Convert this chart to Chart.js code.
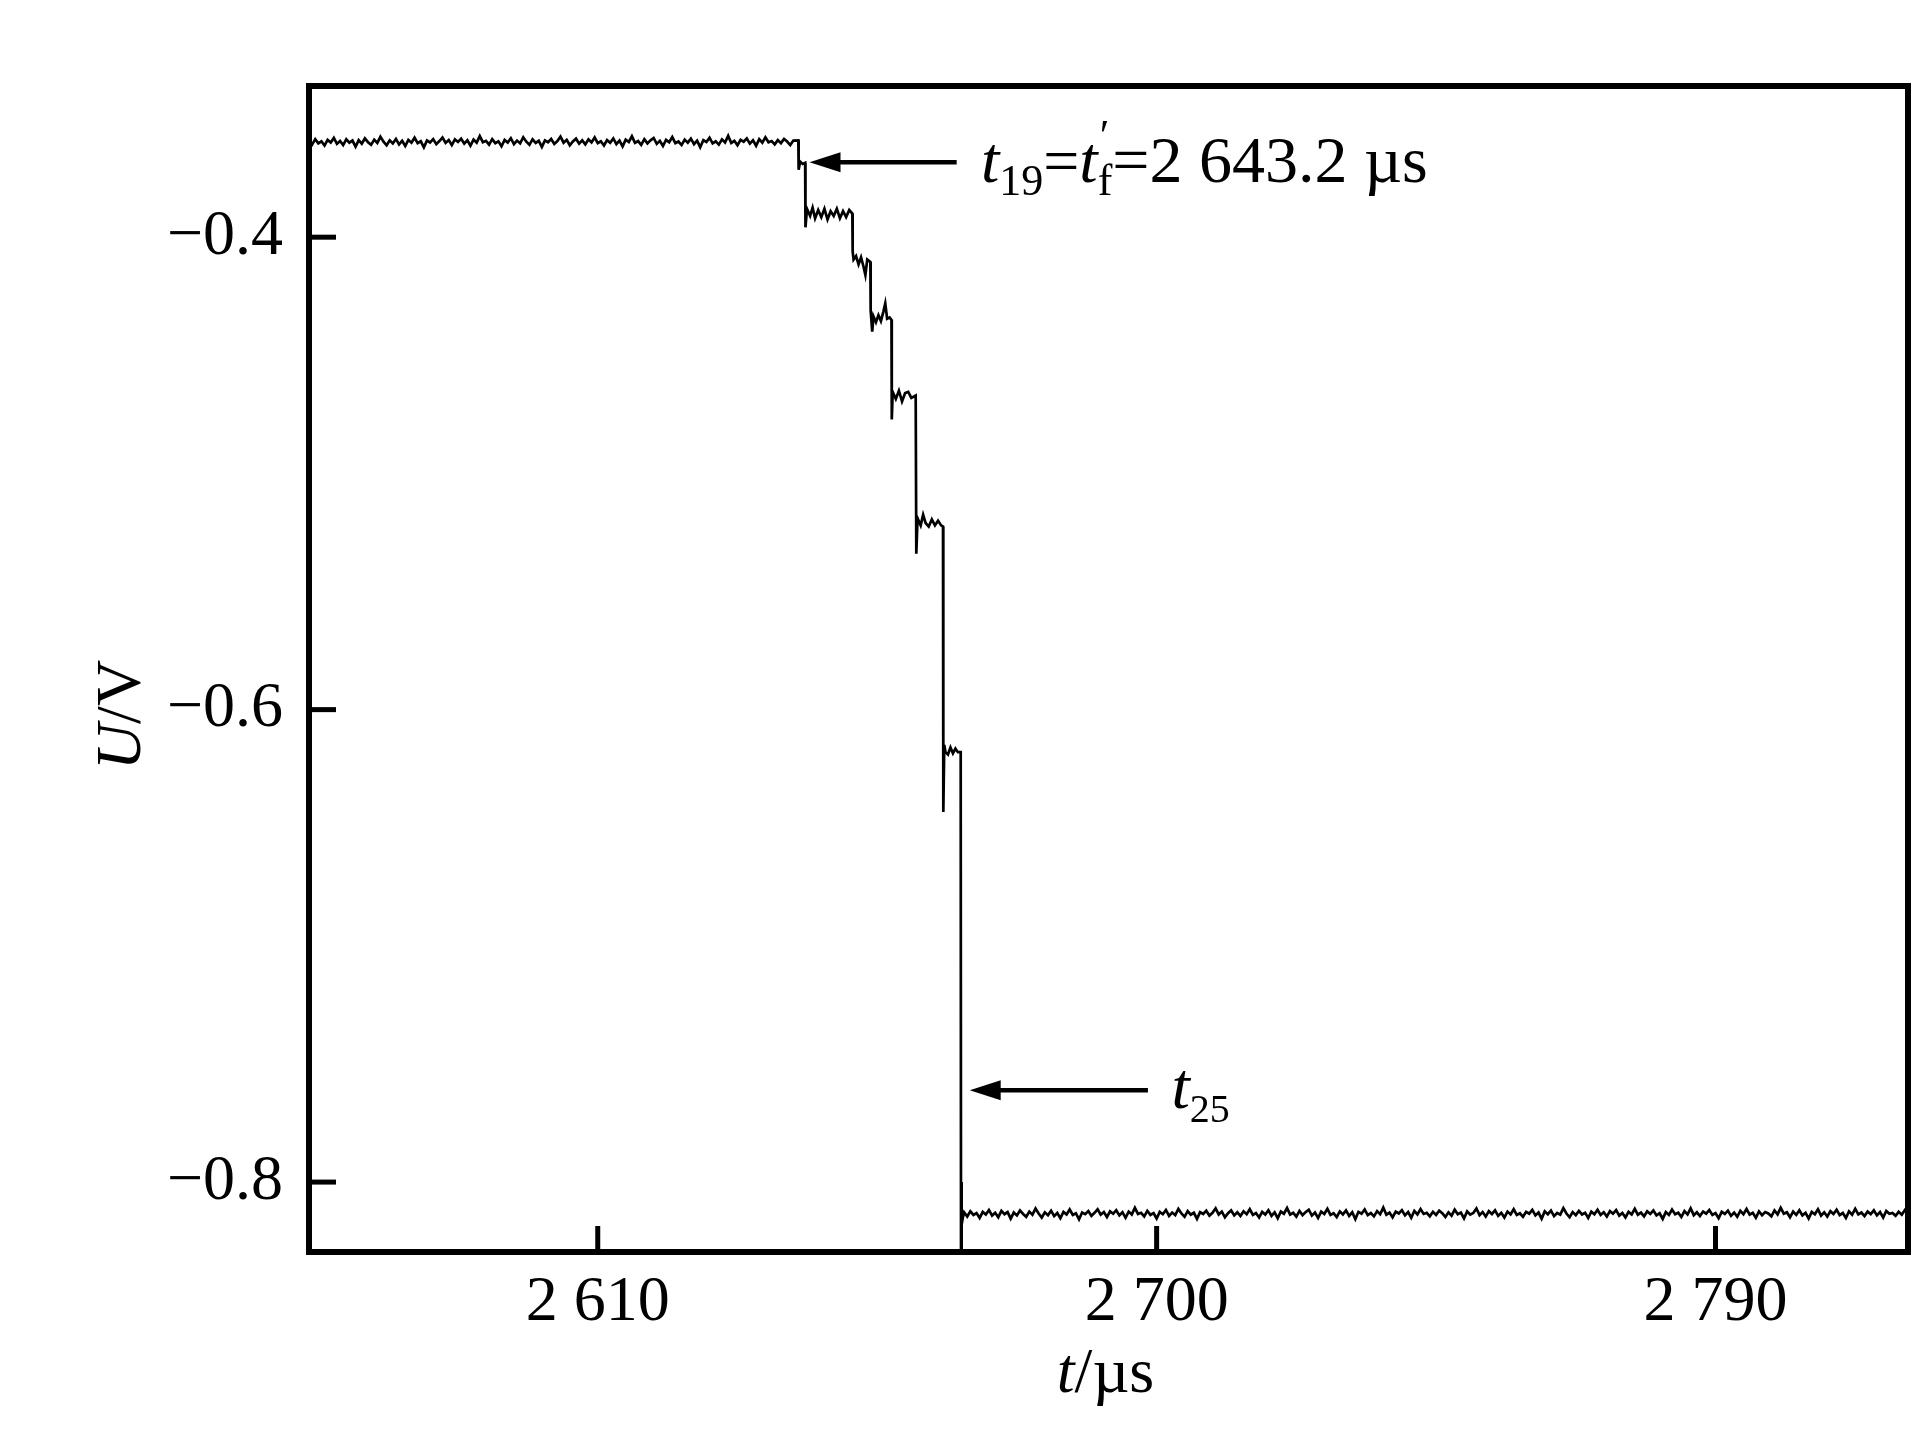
<!DOCTYPE html>
<html lang="en">
<head>
  <meta charset="UTF-8">
  <title>U/V vs t/us trace</title>
  <style>
    html, body {
      margin: 0;
      padding: 0;
      background: #fff;
    }

    #wrap {
      position: relative;
      width: 1923px;
      height: 1429px;
    }
  </style>
</head>
<body>
  <div id="wrap">
    <canvas id="myChart" width="1923" height="1429"></canvas>
  </div>

  <script src="https://cdn.jsdelivr.net/npm/chart.js"></script>
  <script>
// axis ticks
const xTicks = [2610, 2700, 2790];
const yTicks = [-0.4, -0.6, -0.8];

// scope samples, 0.5 us apart, on the upper flat part
const sampleStep = 0.5;
const topStart = 2563.5;
const topU = [
  -0.3590, -0.3608, -0.3585, -0.3603, -0.3594, -0.3612, -0.3588, -0.3599, -0.3580, -0.3605,
  -0.3593, -0.3610, -0.3586, -0.3600, -0.3591, -0.3617, -0.3589, -0.3604, -0.3582, -0.3598,
  -0.3609, -0.3587, -0.3601, -0.3575, -0.3596, -0.3611, -0.3590, -0.3603, -0.3584, -0.3607,
  -0.3592, -0.3614, -0.3588, -0.3600, -0.3579, -0.3602, -0.3594, -0.3620, -0.3591, -0.3599,
  -0.3585, -0.3606, -0.3593, -0.3578, -0.3601, -0.3589, -0.3610, -0.3586, -0.3597, -0.3583,
  -0.3604, -0.3590, -0.3613, -0.3587, -0.3600, -0.3572, -0.3598, -0.3592, -0.3608, -0.3585,
  -0.3602, -0.3594, -0.3615, -0.3588, -0.3599, -0.3581, -0.3606, -0.3591, -0.3603, -0.3577,
  -0.3596, -0.3609, -0.3586, -0.3601, -0.3592, -0.3618, -0.3590, -0.3598, -0.3584, -0.3605,
  -0.3593, -0.3574, -0.3600, -0.3588, -0.3611, -0.3595, -0.3583, -0.3604, -0.3590, -0.3607,
  -0.3586, -0.3599, -0.3578, -0.3602, -0.3594, -0.3612, -0.3589, -0.3600, -0.3582, -0.3606,
  -0.3591, -0.3616, -0.3587, -0.3597, -0.3573, -0.3601, -0.3593, -0.3609, -0.3585, -0.3603,
  -0.3590, -0.3580, -0.3605, -0.3592, -0.3614, -0.3588, -0.3598, -0.3576, -0.3602, -0.3595,
  -0.3610, -0.3587, -0.3600, -0.3583, -0.3606, -0.3591, -0.3619, -0.3589, -0.3597, -0.3579,
  -0.3603, -0.3594, -0.3608, -0.3586, -0.3599, -0.3571, -0.3601, -0.3592, -0.3611, -0.3588,
  -0.3596, -0.3582, -0.3604, -0.3590, -0.3613, -0.3585, -0.3600, -0.3577, -0.3598, -0.3593,
  -0.3607, -0.3589, -0.3602, -0.3584, -0.3595, -0.3610, -0.3591
];

// the staircase between t19 and t25
const stepT = [
  2642.3, 2642.35, 2642.6, 2643.0, 2643.4, 2643.45, 2643.7, 2644.2, 2644.6, 2645.0,
  2645.5, 2646.0, 2646.5, 2647.0, 2647.5, 2648.0, 2648.5, 2649.0, 2649.5, 2650.0,
  2650.5, 2651.0, 2651.05, 2651.2, 2651.6, 2652.0, 2652.4, 2652.8, 2653.1, 2653.4,
  2653.9, 2653.95, 2654.2, 2654.4, 2654.8, 2655.2, 2655.6, 2656.0, 2656.3, 2656.6,
  2657.0, 2657.3, 2657.35, 2657.5, 2658.0, 2658.5, 2659.0, 2659.5, 2660.0, 2660.5,
  2661.2, 2661.3, 2661.5, 2662.0, 2662.4, 2662.8, 2663.3, 2663.8, 2664.3, 2664.8,
  2665.3, 2665.6, 2665.65, 2665.8, 2666.0, 2666.4, 2666.8, 2667.2, 2667.6, 2668.0,
  2668.45, 2668.5, 2668.55, 2668.65, 2668.8
];
const stepU = [
  -0.3590, -0.3715, -0.3680, -0.3690, -0.3685, -0.3958, -0.3880, -0.3910, -0.3875, -0.3920,
  -0.3885, -0.3915, -0.3880, -0.3925, -0.3890, -0.3910, -0.3880, -0.3920, -0.3890, -0.3915,
  -0.3885, -0.3900, -0.4060, -0.4095, -0.4080, -0.4115, -0.4085, -0.4125, -0.4160, -0.4095,
  -0.4105, -0.4310, -0.4400, -0.4335, -0.4360, -0.4330, -0.4355, -0.4315, -0.4280, -0.4345,
  -0.4340, -0.4350, -0.4772, -0.4655, -0.4685, -0.4650, -0.4695, -0.4660, -0.4655, -0.4680,
  -0.4670, -0.5340, -0.5190, -0.5220, -0.5175, -0.5210, -0.5225, -0.5195, -0.5220, -0.5200,
  -0.5220, -0.5225, -0.6433, -0.6150, -0.6180, -0.6190, -0.6160, -0.6185, -0.6165, -0.6180,
  -0.6180, -0.8400, -0.8000, -0.8180, -0.8150
];

// lower flat part after t25
const bottomStart = 2669;
const bottomU = [
  -0.8128, -0.8146, -0.8124, -0.8139, -0.8131, -0.8152, -0.8126, -0.8137, -0.8118, -0.8142,
  -0.8130, -0.8149, -0.8122, -0.8136, -0.8127, -0.8155, -0.8129, -0.8141, -0.8120, -0.8135,
  -0.8147, -0.8125, -0.8138, -0.8112, -0.8133, -0.8150, -0.8128, -0.8140, -0.8121, -0.8144,
  -0.8131, -0.8153, -0.8126, -0.8137, -0.8116, -0.8139, -0.8132, -0.8158, -0.8129, -0.8136,
  -0.8123, -0.8143, -0.8130, -0.8115, -0.8138, -0.8127, -0.8148, -0.8124, -0.8134, -0.8119,
  -0.8141, -0.8128, -0.8151, -0.8125, -0.8137, -0.8109, -0.8135, -0.8130, -0.8145, -0.8122,
  -0.8139, -0.8131, -0.8154, -0.8126, -0.8136, -0.8118, -0.8143, -0.8129, -0.8140, -0.8114,
  -0.8133, -0.8147, -0.8123, -0.8138, -0.8130, -0.8156, -0.8127, -0.8135, -0.8121, -0.8142,
  -0.8130, -0.8111, -0.8137, -0.8125, -0.8149, -0.8132, -0.8120, -0.8141, -0.8128, -0.8144,
  -0.8124, -0.8136, -0.8115, -0.8139, -0.8131, -0.8150, -0.8126, -0.8137, -0.8119, -0.8143,
  -0.8128, -0.8153, -0.8125, -0.8134, -0.8110, -0.8138, -0.8130, -0.8146, -0.8122, -0.8140,
  -0.8127, -0.8117, -0.8142, -0.8129, -0.8152, -0.8125, -0.8135, -0.8113, -0.8139, -0.8132,
  -0.8148, -0.8124, -0.8137, -0.8120, -0.8143, -0.8128, -0.8157, -0.8126, -0.8134, -0.8116,
  -0.8140, -0.8131, -0.8145, -0.8123, -0.8136, -0.8108, -0.8138, -0.8129, -0.8149, -0.8125,
  -0.8133, -0.8119, -0.8141, -0.8127, -0.8151, -0.8122, -0.8137, -0.8114, -0.8135, -0.8130,
  -0.8145, -0.8126, -0.8139, -0.8121, -0.8132, -0.8148, -0.8128, -0.8142, -0.8117, -0.8136,
  -0.8129, -0.8154, -0.8124, -0.8138, -0.8131, -0.8112, -0.8140, -0.8127, -0.8146, -0.8123,
  -0.8135, -0.8120, -0.8143, -0.8130, -0.8150, -0.8125, -0.8137, -0.8115, -0.8139, -0.8132,
  -0.8147, -0.8126, -0.8134, -0.8118, -0.8141, -0.8129, -0.8155, -0.8124, -0.8136, -0.8121,
  -0.8144, -0.8131, -0.8138, -0.8110, -0.8133, -0.8149, -0.8127, -0.8140, -0.8122, -0.8137,
  -0.8130, -0.8152, -0.8125, -0.8136, -0.8117, -0.8139, -0.8128, -0.8146, -0.8123, -0.8134,
  -0.8119, -0.8142, -0.8131, -0.8150, -0.8126, -0.8137, -0.8113, -0.8138, -0.8129, -0.8145,
  -0.8124, -0.8135, -0.8120, -0.8141, -0.8132, -0.8156, -0.8127, -0.8139, -0.8116, -0.8136,
  -0.8130, -0.8148, -0.8123, -0.8137, -0.8111, -0.8140, -0.8128, -0.8144, -0.8125, -0.8134,
  -0.8118, -0.8139, -0.8131, -0.8153, -0.8126, -0.8135, -0.8121, -0.8143, -0.8129, -0.8147,
  -0.8122, -0.8136, -0.8114, -0.8138, -0.8130, -0.8151, -0.8124, -0.8140, -0.8127, -0.8133,
  -0.8145, -0.8120, -0.8137, -0.8109, -0.8134, -0.8128, -0.8149, -0.8125, -0.8139, -0.8119,
  -0.8141, -0.8130, -0.8154, -0.8126, -0.8136, -0.8115, -0.8142, -0.8128, -0.8146, -0.8123,
  -0.8135, -0.8117, -0.8140, -0.8131, -0.8152, -0.8124, -0.8138, -0.8113, -0.8137, -0.8129,
  -0.8144, -0.8125, -0.8136, -0.8120, -0.8141, -0.8127, -0.8150, -0.8122, -0.8134, -0.8131,
  -0.8143, -0.8126, -0.8138, -0.8118, -0.8135
];

const serif = '"Liberation Serif", "Times New Roman", serif';

function buildTrace() {
  const pts = [];
  topU.forEach((u, i) => pts.push({ x: topStart + i * sampleStep, y: u }));
  stepT.forEach((t, i) => pts.push({ x: t, y: stepU[i] }));
  bottomU.forEach((u, i) => pts.push({ x: bottomStart + i * sampleStep, y: u }));
  return pts;
}

// writes pieces of text one after another (italic t, subscripts ...)
function runText(ctx, x, y, parts) {
  parts.forEach(p => {
    ctx.font = (p.italic ? 'italic ' : '') + p.size + 'px ' + serif;
    ctx.fillText(p.text, x + (p.dx || 0), y + (p.dy || 0));
    if (!p.stay) x += ctx.measureText(p.text).width + (p.dx || 0);
  });
  return x;
}

function textWidth(ctx, parts) {
  let w = 0;
  parts.forEach(p => {
    ctx.font = (p.italic ? 'italic ' : '') + p.size + 'px ' + serif;
    if (!p.stay) w += ctx.measureText(p.text).width + (p.dx || 0);
  });
  return w;
}

// horizontal arrow pointing left, tip at xTip
function leftArrow(ctx, xTail, xTip, y) {
  ctx.lineWidth = 4.5;
  ctx.beginPath();
  ctx.moveTo(xTail, y);
  ctx.lineTo(xTip + 20, y);
  ctx.stroke();
  ctx.beginPath();
  ctx.moveTo(xTip, y);
  ctx.lineTo(xTip + 31, y - 10);
  ctx.lineTo(xTip + 31, y + 10);
  ctx.closePath();
  ctx.fill();
}

const framePlugin = {
  id: 'frame',
  afterDraw(chart) {
    const { ctx, chartArea: a, scales: { x, y } } = chart;
    ctx.save();
    ctx.strokeStyle = '#000';
    ctx.fillStyle = '#000';
    ctx.lineWidth = 6;
    ctx.strokeRect(a.left, a.top, a.right - a.left, a.bottom - a.top);

    // ticks point inwards
    xTicks.forEach(v => {
      const px = x.getPixelForValue(v);
      ctx.fillRect(px - 2.5, a.bottom - 26, 5, 26);
    });
    yTicks.forEach(v => {
      const py = y.getPixelForValue(v);
      ctx.fillRect(a.left, py - 2.5, 27, 5);
    });

    // t19 arrow and label
    const y19 = y.getPixelForValue(-0.3683);
    leftArrow(ctx, x.getPixelForValue(2667.8), x.getPixelForValue(2644.1), y19);
    ctx.textBaseline = 'alphabetic';
    ctx.textAlign = 'left';
    runText(ctx, x.getPixelForValue(2671.7), y.getPixelForValue(-0.3767), [
      { text: 't', italic: true, size: 66 },
      { text: '19', size: 44, dy: 13 },
      { text: '=', size: 64 },
      { text: 't', italic: true, size: 66 },
      { text: '\u2032', size: 44, dx: 2, dy: -32, stay: true },
      { text: 'f', size: 44, dy: 13 },
      { text: '=2 643.2 \u00b5s', size: 66 }
    ]);

    // t25 arrow and label
    const y25 = y.getPixelForValue(-0.7611);
    leftArrow(ctx, x.getPixelForValue(2698.6), x.getPixelForValue(2669.9), y25);
    runText(ctx, x.getPixelForValue(2702.4), y.getPixelForValue(-0.7687), [
      { text: 't', italic: true, size: 66 },
      { text: '25', size: 40, dy: 14 }
    ]);

    // axis titles
    const xTitle = [
      { text: 't', italic: true, size: 64 },
      { text: '/\u00b5s', size: 64 }
    ];
    const cx = (a.left + a.right) / 2;
    runText(ctx, cx - textWidth(ctx, xTitle) / 2 - 3, a.bottom + 140, xTitle);

    const yTitle = [
      { text: 'U', italic: true, size: 64 },
      { text: '/V', size: 64 }
    ];
    ctx.translate(a.left - 169, (a.top + a.bottom) / 2 + 46);
    ctx.rotate(-Math.PI / 2);
    runText(ctx, -textWidth(ctx, yTitle) / 2, 0, yTitle);
    ctx.restore();
  }
};

Chart.defaults.font.family = serif;
Chart.defaults.color = '#000';

const ctx = document.getElementById('myChart').getContext('2d');
const chart = new Chart(ctx, {
  type: 'line',
  data: {
    datasets: [{
      data: buildTrace(),
      borderColor: '#000',
      borderWidth: 2.7,
      pointRadius: 0,
      tension: 0,
      fill: false
    }]
  },
  options: {
    responsive: false,
    animation: false,
    layout: {
      padding: { left: 0, right: 15, top: 86, bottom: 0 }
    },
    plugins: {
      legend: { display: false },
      tooltip: { enabled: false }
    },
    scales: {
      x: {
        type: 'linear',
        min: 2563.5,
        max: 2821,
        grid: { display: false, drawTicks: false },
        border: { display: false },
        afterBuildTicks: scale => { scale.ticks = xTicks.map(v => ({ value: v })); },
        afterFit: scale => { scale.height = 177; },
        ticks: {
          padding: 13,
          maxRotation: 0,
          autoSkip: false,
          font: { size: 64 },
          callback: v => String(v).replace(/^(\d)(\d{3})$/, '$1 $2')
        }
      },
      y: {
        type: 'linear',
        min: -0.8296,
        max: -0.336,
        grid: { display: false, drawTicks: false },
        border: { display: false },
        afterBuildTicks: scale => { scale.ticks = yTicks.map(v => ({ value: v })); },
        afterFit: scale => { scale.width = 309; },
        ticks: {
          padding: 26,
          autoSkip: false,
          font: { size: 64 },
          callback: v => '\u2212' + Math.abs(v).toFixed(1)
        }
      }
    }
  },
  plugins: [framePlugin]
});
  </script>
</body>
</html>
